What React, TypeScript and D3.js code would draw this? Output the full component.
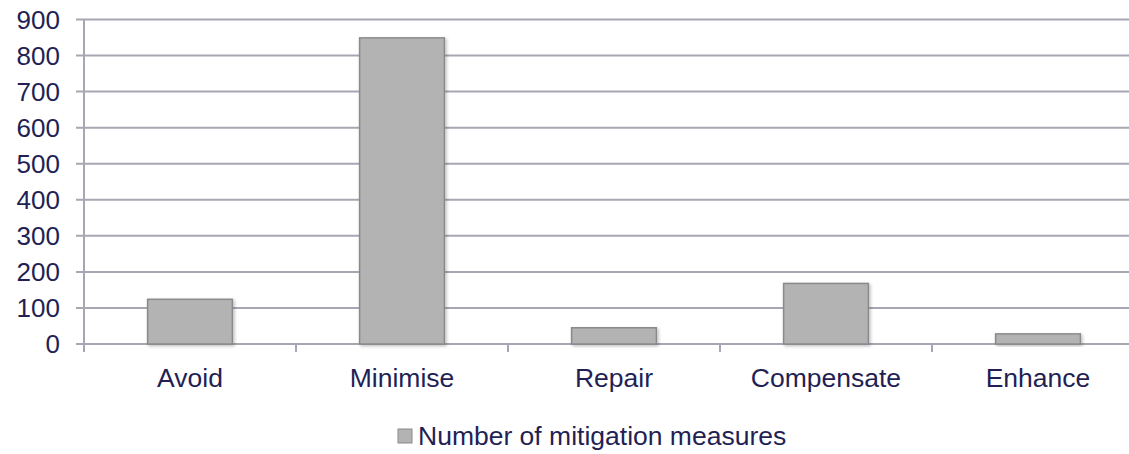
import React from 'react';
import * as d3 from 'd3';

const categories = ['Avoid', 'Minimise', 'Repair', 'Compensate', 'Enhance'];
const measures = [124, 849, 45, 168, 28];
const yTicks = [0, 100, 200, 300, 400, 500, 600, 700, 800, 900];
const seriesName = 'Number of mitigation measures';

const W = 1129;
const H = 454;
const textColor = '#231f55';
const gridColor = '#a7a6b2';

export default function App() {
  const left = 84;
  const right = 1144;
  const top = 19.5;
  const bottom = 344;

  const x = d3.scaleBand().domain(categories).range([left, right]).paddingInner(0.6).paddingOuter(0.3);
  const band = d3.scaleBand().domain(categories).range([left, right]);
  const y = d3.scaleLinear().domain([0, 900]).range([bottom, top]);

  return (
    <svg width={W} height={H} style={{ position: 'absolute', left: 0, top: 0 }} fontFamily="'Liberation Sans', Arial, sans-serif">
      <defs>
        <filter id="shadow" x="-10%" y="-10%" width="130%" height="130%">
          <feDropShadow dx="1.5" dy="1.5" stdDeviation="1.5" floodColor="#000" floodOpacity="0.25" />
        </filter>
      </defs>
      {yTicks.map(t => (
        <g key={t}>
          <line x1={76} x2={W} y1={y(t)} y2={y(t)} stroke={gridColor} strokeWidth={2} />
          <text x={60} y={y(t)} dy="0.36em" textAnchor="end" fontSize={26} fill={textColor}>{t}</text>
        </g>
      ))}
      <line x1={left} x2={left} y1={top} y2={bottom + 8} stroke={gridColor} strokeWidth={2} />
      {categories.map(c => (
        <line key={c} x1={(band(c) as number) + band.bandwidth()} x2={(band(c) as number) + band.bandwidth()}
          y1={bottom} y2={bottom + 8} stroke={gridColor} strokeWidth={2} />
      ))}
      {categories.map((c, i) => (
        <rect key={c} x={x(c)} y={y(measures[i])} width={x.bandwidth()} height={bottom - y(measures[i])}
          fill="#b3b3b3" stroke="#8a8a8a" strokeWidth={1.5} filter="url(#shadow)" />
      ))}
      {categories.map(c => (
        <text key={c} x={(band(c) as number) + band.bandwidth() / 2} y={387} textAnchor="middle" fontSize={26.5} fill={textColor}>{c}</text>
      ))}
      <rect x={398} y={429} width={14} height={14} fill="#b3b3b3" stroke="#8a8a8a" strokeWidth={1} />
      <text x={418} y={444.5} fontSize={26.5} fill={textColor}>{seriesName}</text>
    </svg>
  );
}
